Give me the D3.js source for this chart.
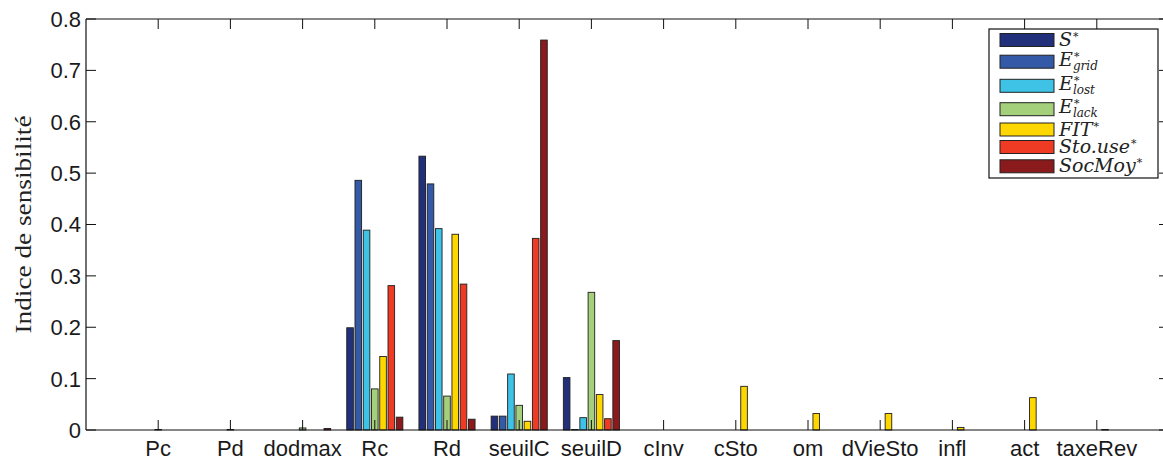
<!DOCTYPE html>
<html>
<head>
<meta charset="utf-8">
<script src="https://cdn.jsdelivr.net/npm/d3@7"></script>
<style>
  html, body { margin: 0; padding: 0; background: #fff; }
  svg { display: block; }
</style>
</head>
<body>
<svg id="chart" width="1163" height="461"></svg>
<script>
// ---------- data ----------
const categories = ["Pc","Pd","dodmax","Rc","Rd","seuilC","seuilD","cInv","cSto","om","dVieSto","infl","act","taxeRev"];
const yTicks = [0, 0.1, 0.2, 0.3, 0.4, 0.5, 0.6, 0.7, 0.8];
const yTickLabels = ["0","0.1","0.2","0.3","0.4","0.5","0.6","0.7","0.8"];

const S_star   = [0, 0, 0, 0.199, 0.533, 0.027, 0.102, 0, 0, 0, 0, 0, 0, 0];
const E_grid   = [0, 0, 0, 0.486, 0.479, 0.027, 0.001, 0, 0, 0, 0, 0, 0, 0];
const E_lost   = [0, 0, 0, 0.389, 0.392, 0.109, 0.024, 0, 0, 0, 0, 0, 0, 0];
const E_lack   = [0.001, 0.001, 0.004, 0.080, 0.066, 0.048, 0.268, 0, 0, 0, 0, 0, 0, 0];
const FIT      = [0, 0, 0, 0.143, 0.381, 0.017, 0.069, 0, 0.085, 0.032, 0.032, 0.005, 0.063, 0.001];
const Sto_use  = [0, 0, 0, 0.281, 0.284, 0.373, 0.022, 0, 0, 0, 0, 0, 0, 0];
const SocMoy   = [0, 0, 0.003, 0.025, 0.021, 0.759, 0.174, 0, 0, 0, 0, 0, 0, 0];

// legend label parts: [main, superscript, subscript]
const seriesNames = [
  ["S", "*", ""],
  ["E", "*", "grid"],
  ["E", "*", "lost"],
  ["E", "*", "lack"],
  ["FIT", "*", ""],
  ["Sto.use", "*", ""],
  ["SocMoy", "*", ""]
];
const seriesValues = [S_star, E_grid, E_lost, E_lack, FIT, Sto_use, SocMoy];
const seriesColors = ["#22307c", "#3459a6", "#3ec3e6", "#a4d07c", "#ffd700", "#ef3b24", "#8b1a1c"];

// ---------- layout ----------
const M = { left: 86, top: 19, right: 1169, bottom: 430 };
const legendBox = { x: 989, y: 29, w: 169, h: 149 };
const legendRowY = [40, 61.7, 85.8, 109.2, 129.5, 147, 166.3];

const svg = d3.select("#chart");

const x = d3.scaleLinear().domain([0, categories.length + 1]).range([M.left, M.right]);
const y = d3.scaleLinear().domain([0, 0.8]).range([M.bottom, M.top]);

const nS = seriesValues.length;
const groupWidth = 0.8;
const pitch = groupWidth / nS;
const barW = pitch * 0.8;

// bars
seriesValues.forEach((vals, si) => {
  svg.append("g").selectAll("rect")
    .data(vals)
    .join("rect")
    .attr("x", (d, ci) => x(ci + 1 + (si - (nS - 1) / 2) * pitch - barW / 2))
    .attr("width", x(barW) - x(0))
    .attr("y", d => y(d))
    .attr("height", d => y(0) - y(d))
    .attr("fill", seriesColors[si])
    .attr("stroke", "#1e1e1e")
    .attr("stroke-width", 0.9);
});

// axes frame
const axisColor = "#111";
[[M.left, M.bottom, M.right, M.bottom], [M.left, M.top, M.right, M.top],
 [M.left, M.top, M.left, M.bottom], [M.right, M.top, M.right, M.bottom]].forEach(l => {
  svg.append("line").attr("x1", l[0]).attr("y1", l[1]).attr("x2", l[2]).attr("y2", l[3])
    .attr("stroke", axisColor).attr("stroke-width", 1.2);
});

const tickLen = 10;
// x ticks bottom & top
const xt = svg.append("g");
categories.forEach((c, i) => {
  const px = x(i + 1);
  xt.append("line").attr("x1", px).attr("x2", px).attr("y1", M.bottom).attr("y2", M.bottom - tickLen)
    .attr("stroke", axisColor).attr("stroke-width", 1);
  xt.append("line").attr("x1", px).attr("x2", px).attr("y1", M.top).attr("y2", M.top + tickLen)
    .attr("stroke", axisColor).attr("stroke-width", 1);
  xt.append("text").attr("x", px).attr("y", 456)
    .attr("text-anchor", "middle")
    .attr("font-family", "Liberation Sans, Arial, sans-serif")
    .attr("font-size", 22)
    .attr("fill", "#1a1a1a")
    .text(c);
});

// y ticks left & right
const yt = svg.append("g");
yTicks.forEach((v, i) => {
  const py = y(v);
  yt.append("line").attr("x1", M.left).attr("x2", M.left + tickLen).attr("y1", py).attr("y2", py)
    .attr("stroke", axisColor).attr("stroke-width", 1);
  yt.append("line").attr("x1", M.right).attr("x2", M.right - tickLen).attr("y1", py).attr("y2", py)
    .attr("stroke", axisColor).attr("stroke-width", 1);
  yt.append("text").attr("x", M.left - 5).attr("y", py).attr("dy", "0.36em")
    .attr("text-anchor", "end")
    .attr("font-family", "Liberation Sans, Arial, sans-serif")
    .attr("font-size", 22)
    .attr("fill", "#1a1a1a")
    .text(yTickLabels[i]);
});

// y title
svg.append("text")
  .attr("transform", "translate(31," + ((M.top + M.bottom) / 2) + ") rotate(-90)")
  .attr("text-anchor", "middle")
  .attr("font-family", "Liberation Serif, Times New Roman, serif")
  .attr("font-size", 23)
  .attr("fill", "#222")
  .attr("textLength", 218)
  .attr("lengthAdjust", "spacingAndGlyphs")
  .text("Indice de sensibilité");

// legend
const lg = svg.append("g");
lg.append("rect").attr("x", legendBox.x).attr("y", legendBox.y).attr("width", legendBox.w).attr("height", legendBox.h)
  .attr("fill", "#fff").attr("stroke", "#111").attr("stroke-width", 1.2);
seriesNames.forEach((parts, i) => {
  const cy = legendRowY[i];
  lg.append("rect").attr("x", 1000).attr("y", cy - 6.5).attr("width", 54).attr("height", 13)
    .attr("fill", seriesColors[i]).attr("stroke", "#222").attr("stroke-width", 1);
  const base = cy + (parts[2] ? 4 : 6);
  const t = lg.append("text").attr("x", 1059).attr("y", base)
    .attr("font-family", "DejaVu Serif, serif")
    .attr("fill", "#222");
  const main = t.append("tspan").attr("font-style", "italic").attr("font-size", 19).text(parts[0]);
  const w = main.node().getComputedTextLength();
  t.append("tspan").attr("x", 1059 + w + 1).attr("dy", -6).attr("font-size", 11).text(parts[1]);
  if (parts[2]) {
    t.append("tspan").attr("x", 1059 + w).attr("dy", 10)
      .attr("font-style", "italic").attr("font-size", 12).text(parts[2]);
  }
});
</script>
</body>
</html>
